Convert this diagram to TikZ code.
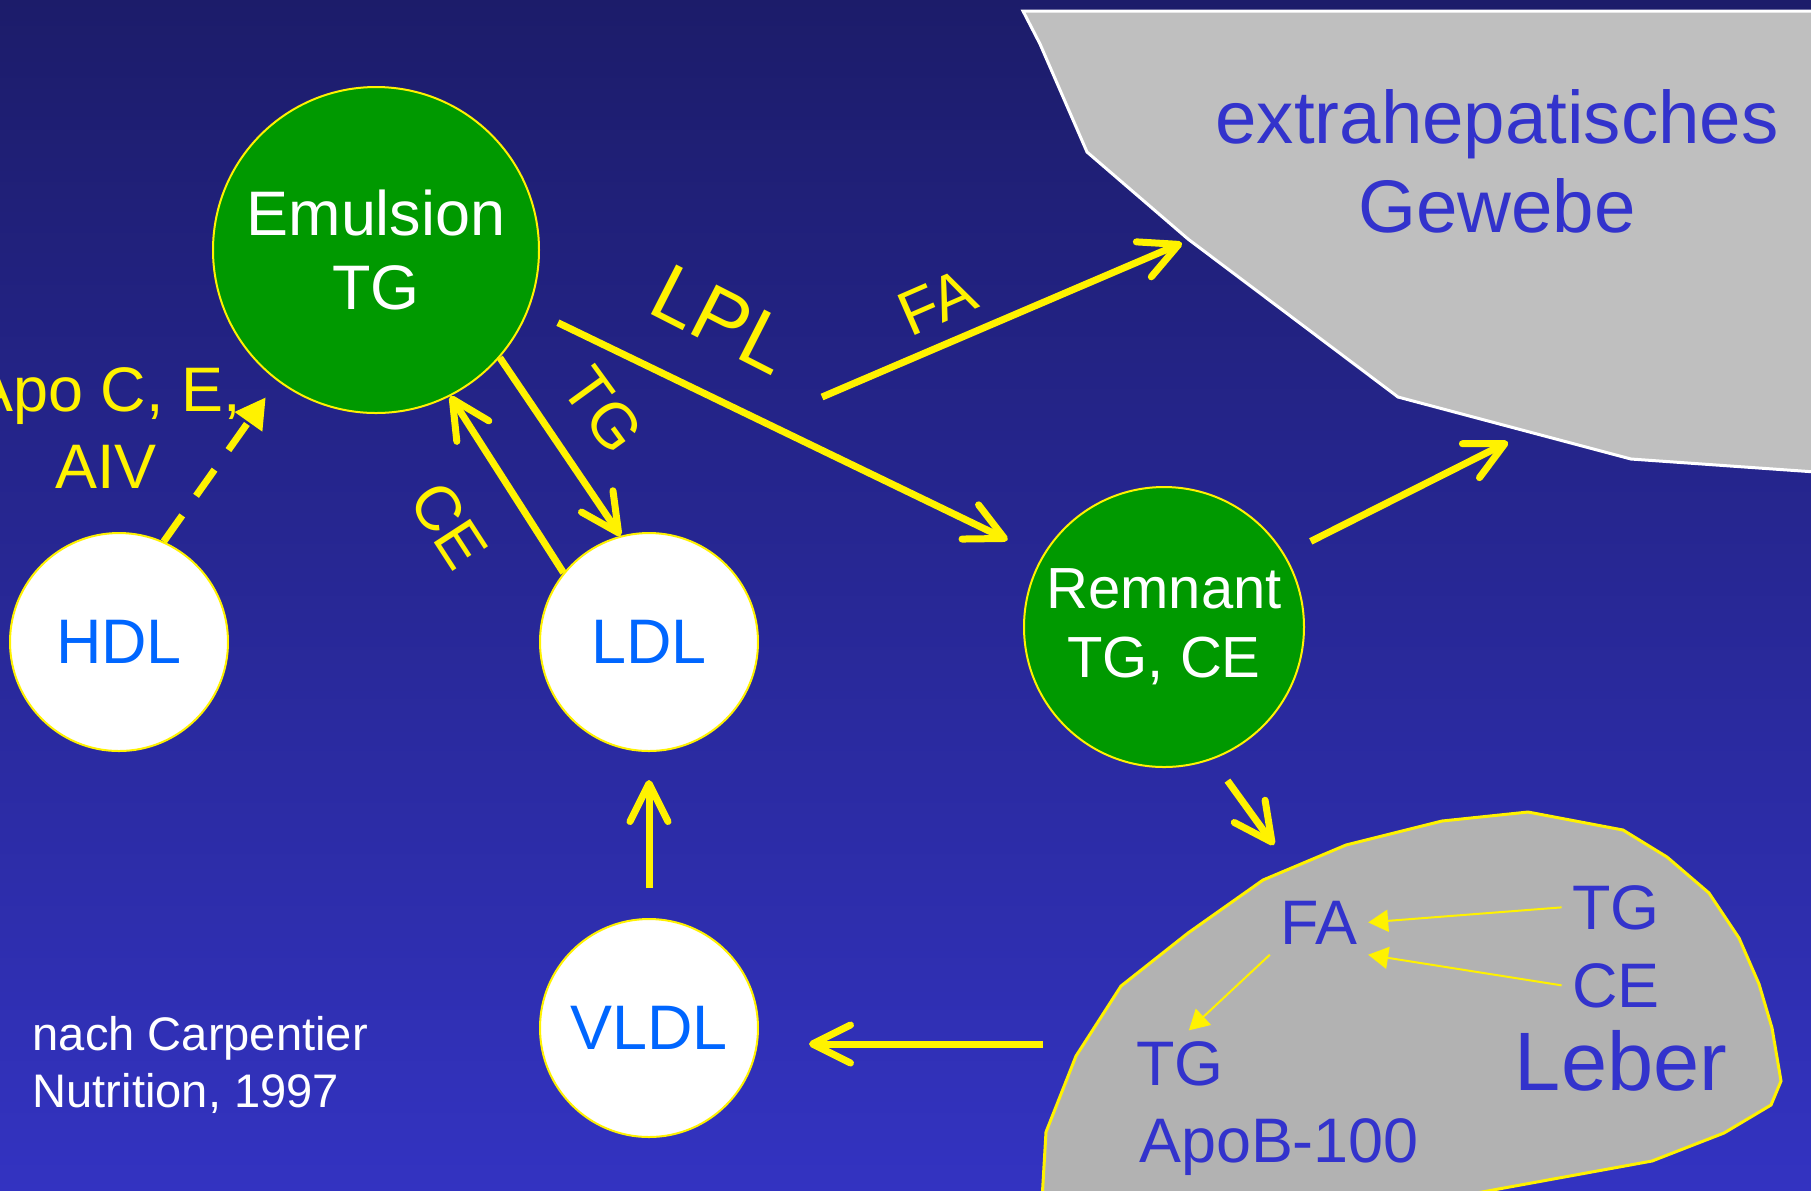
\documentclass[tikz,border=0pt]{standalone}
\usepackage{fontspec}
\setmainfont{Liberation Sans}
\usetikzlibrary{arrows.meta}
\definecolor{bgtop}{RGB}{28,28,106}
\definecolor{bgbot}{RGB}{51,51,193}
\definecolor{kgreen}{RGB}{0,153,0}
\definecolor{lblue}{RGB}{0,102,255}
\definecolor{tblue}{RGB}{51,51,204}
\definecolor{gewgray}{RGB}{191,191,191}
\definecolor{lebgray}{RGB}{178,178,178}

\begin{document}
\begin{tikzpicture}[x=0.1mm, y=-0.1mm, node distance=53mm,
  bigtext/.style={font=\fontsize{17.9}{21.3}\selectfont},
  gball/.style={draw=yellow, line width=0.2mm, circle, fill=kgreen, text=white, align=center, inner sep=0pt},
  wball/.style={draw=yellow, line width=0.2mm, circle, fill=white, text=lblue, minimum size=21.8mm, inner sep=0pt, bigtext},
  lab/.style={text=yellow, bigtext},
  ltext/.style={text=tblue, bigtext, inner sep=1mm},
  arr/.style={yellow, line width=0.7mm, -{Straight Barb[length=3.8mm, width=3.8mm, round]}},
  dasharr/.style={yellow, line width=0.7mm, dash pattern=on 3.2mm off 2.4mm, -{Triangle[length=3mm, width=3.2mm]}},
  thinarr/.style={yellow, line width=0.2mm, -{Triangle[length=2mm, width=2.2mm]}}]
\shade[top color=bgtop, bottom color=bgbot] (0,0) rectangle (1811,1190);
\useasboundingbox (0,0) rectangle (1811,1190);
\filldraw[fill=gewgray, draw=white, line width=0.3mm] (1023,11) -- (1040,44) -- (1087,152) -- (1188,239) -- (1398,397) -- (1631,459) -- (1830,473) -- (1830,11) -- cycle;
\filldraw[fill=lebgray, draw=yellow, line width=0.3mm] (1042,1200) -- (1046,1132) -- (1076,1056) -- (1121,986) -- (1188,933) -- (1263,880) -- (1346,845) -- (1442,821) -- (1528,812) -- (1623,830) -- (1667,857) -- (1709,893) -- (1739,938) -- (1759,984) -- (1772,1028) -- (1781,1081) -- (1771,1105) -- (1724,1133) -- (1652,1161) -- (1482,1192) -- (1440,1200) -- cycle;
\node (gew)[text=tblue, align=center, font=\fontsize{21.2}{25.3}\selectfont] at (1497,161) {extrahepatisches\\Gewebe};
\node (emul)[gball, minimum size=32.6mm, font=\fontsize{17.9}{21.3}\selectfont] at (376,250) {Emulsion\\TG};
\node (hdl)[wball] at (119,642) {HDL};
\node (ldl)[wball] [right of = hdl] {LDL};
\node (vldl)[wball, node distance=38.6mm] [below of = ldl] {VLDL};
\node (remn)[gball, minimum size=28mm, font=\fontsize{16.5}{19.6}\selectfont] at (1164,627) {Remnant\\TG, CE};
\node (apo)[lab, align=center, font=\fontsize{17.9}{21.9}\selectfont] at (106,428) {Apo C, E,\\AIV};
\node (lpl)[lab, rotate=-27, font=\fontsize{23}{27}\selectfont] at (722,319) {LPL};
\node (faLab)[lab, rotate=23.5] at (937,302) {FA};
\node (tgLab)[lab, rotate=-54] at (603,410) {TG};
\node (ceLab)[lab, rotate=-57] at (449,525) {CE};
\node (quelle)[text=white, align=left, anchor=west, inner sep=0pt, font=\fontsize{13.4}{16.2}\selectfont] at (32,1065) {nach Carpentier\\Nutrition, 1997};
\node (faL)[ltext, anchor=base] at (1319,944) {FA};
\node (tgR)[ltext, anchor=base] at (1616,929) {TG};
\node (ceR)[ltext, anchor=base] at (1616,1007) {CE};
\node (tgL)[ltext, anchor=base] at (1180,1085) {TG};
\node (apoB)[ltext, anchor=base] at (1279,1162) {ApoB-100};
\node (leb)[text=tblue, anchor=base, font=\fontsize{23.6}{28}\selectfont] at (1621,1090) {Leber};
\coordinate (faS) at (822,397);
\coordinate (faE) at (1182,243);
\coordinate (gewIn) at (1508,442);
\coordinate (lebIn) at (1274,845);
\coordinate (lebOut) at (1043,1044);
\draw[dasharr, shorten >=2mm] (hdl.66) -- (emul.233);
\draw[arr] (emul.-41) -- (ldl.105);
\draw[arr] (ldl.141) -- (emul.-63);
\draw[arr, shorten <=3.2mm, shorten >=3.8mm] (emul.-21) -- (remn.150);
\draw[arr] (faS) -- (faE);
\draw[arr, shorten <=2.9mm] (remn.31) -- (gewIn);
\draw[arr, shorten <=2.6mm] (remn.-70) -- (lebIn);
\draw[arr, shorten >=5mm] (lebOut) -- (lebOut -| vldl.east);
\draw[arr, shorten <=3mm, shorten >=2.8mm] (vldl) -- (ldl);
\draw[thinarr] (tgR.west) -- (faL.east);
\draw[thinarr] (ceR.west) -- (faL.south east);
\draw[thinarr] (faL.south west) -- (tgL.75);
\end{tikzpicture}
\end{document}
